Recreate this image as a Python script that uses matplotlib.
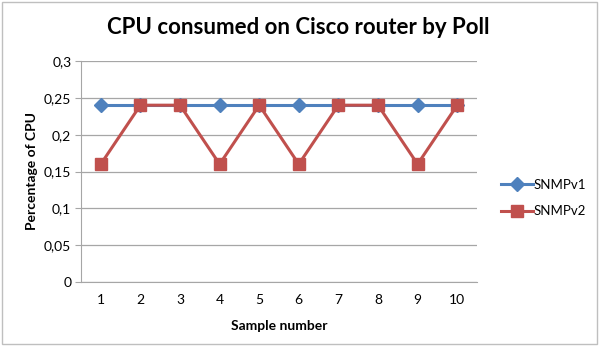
import matplotlib.pyplot as plt
from matplotlib.patches import Rectangle
from matplotlib.ticker import FuncFormatter

plt.rcParams['font.family'] = ['Lato', 'DejaVu Sans']

samples = [1, 2, 3, 4, 5, 6, 7, 8, 9, 10]
snmpv1 = [0.24, 0.24, 0.24, 0.24, 0.24, 0.24, 0.24, 0.24, 0.24, 0.24]
snmpv2 = [0.16, 0.24, 0.24, 0.16, 0.24, 0.16, 0.24, 0.24, 0.16, 0.24]
yticks = [0, 0.05, 0.1, 0.15, 0.2, 0.25, 0.3]

fig = plt.figure(figsize=(6.01, 3.46), dpi=100)
ax = fig.add_axes([81 / 601, 1 - 282 / 346, 396 / 601, 221 / 346])

ax.plot(samples, snmpv1, color='#4F81BD', lw=2.2, marker='D', ms=7,
        label='SNMPv1', zorder=3)
ax.plot(samples, snmpv2, color='#C0504D', lw=2.2, marker='s', ms=9,
        label='SNMPv2', zorder=4)

ax.set_xlim(0.5, 10.5)
ax.set_ylim(0, 0.3)
ax.set_xticks(samples)
ax.set_yticks(yticks)
ax.yaxis.set_major_formatter(FuncFormatter(lambda v, p: ('%g' % v).replace('.', ',')))
ax.grid(axis='y', color='#A6A6A6', lw=0.9)
ax.set_axisbelow(True)
for s in ['top', 'right']:
    ax.spines[s].set_visible(False)
for s in ['left', 'bottom']:
    ax.spines[s].set_color('#A6A6A6')
ax.tick_params(axis='y', length=4, color='#A6A6A6', labelsize=10, pad=3)
ax.tick_params(axis='x', length=0, labelsize=10, pad=9)

ax.set_xlabel('Sample number', fontsize=10, fontweight='bold', labelpad=10)
ax.set_ylabel('Percentage of CPU', fontsize=10, fontweight='bold', labelpad=4)
fig.text(298 / 601, 1 - 28 / 346, 'CPU consumed on Cisco router by Poll',
         ha='center', va='center', fontsize=16, fontweight='bold')

fig.legend(loc='center left', bbox_to_anchor=(489 / 601, 1 - 198 / 346),
           frameon=False, fontsize=9.5, handlelength=2.4, handletextpad=0.1,
           labelspacing=1.1)

fig.patches.append(Rectangle((0.003, 0.005), 0.99, 0.99, transform=fig.transFigure,
                             fill=False, ec='#BFBFBF', lw=1))

fig.savefig('out.png', dpi=100)
